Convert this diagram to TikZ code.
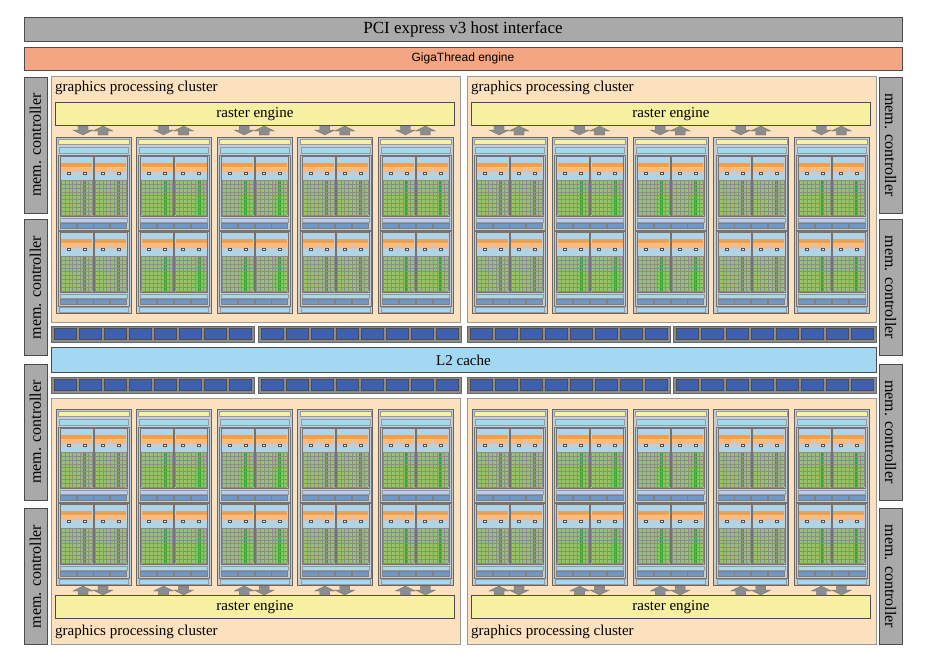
\documentclass[tikz,border=0pt]{standalone}
\usepackage{fontspec}
\setmainfont{Liberation Serif}
\newfontfamily\gtfont{Liberation Sans}
\definecolor{pcigray}{HTML}{A9A9A9}
\definecolor{gigaorange}{HTML}{F4A582}
\definecolor{gpcbg}{HTML}{FCE1BE}
\definecolor{rasteryel}{HTML}{F7F0A0}
\definecolor{lblue}{HTML}{A3D8F2}
\definecolor{mblue}{HTML}{6E98C8}
\definecolor{dblue}{HTML}{3F5FAF}
\definecolor{smorange}{HTML}{EFA04E}
\definecolor{smgreen}{HTML}{95C36A}
\definecolor{smframe}{HTML}{C4CCD4}
\tikzset{
  box/.style={draw=black!70, line width=0.6pt},
  memctl/.style={box, fill=pcigray, minimum width=23, minimum height=136, inner sep=0pt},
  blockarrow/.style={fill=black!45, draw=black!55, line width=0.3pt},
  pics/sm/.style={code={
    \draw[fill=smframe, draw=black!60, line width=0.8pt] (0,0) rectangle (75,176);
    \fill[rasteryel, draw=black!40, line width=0.3pt] (2,2) rectangle (73,7);
    \fill[lblue, draw=black!40, line width=0.3pt] (3,10) rectangle (72,16);
    \foreach \h in {18,94} {
      \draw[black!55, line width=0.6pt] (2,\h) rectangle (73,\h+75);
      \foreach \c in {4,38} {
        \draw[black!55, line width=0.5pt] (\c,\h+1) rectangle (\c+33,\h+61);
        \fill[lblue] (\c+1,\h+2) rectangle (\c+32,\h+6);
        \fill[smorange] (\c+1,\h+8) rectangle (\c+32,\h+12);
        \fill[smorange!70] (\c+1,\h+13) rectangle (\c+16,\h+17);
        \fill[smorange!70] (\c+17,\h+13) rectangle (\c+32,\h+17);
        \draw[black!70, fill=white, line width=0.3pt] (\c+7,\h+17) rectangle (\c+10,\h+19)
          (\c+23,\h+17) rectangle (\c+26,\h+19);
        \fill[lblue] (\c+1,\h+20) rectangle (\c+32,\h+23);
        \fill[smgreen] (\c+1,\h+25) rectangle (\c+32,\h+60);
        \fill[green!55!black!80] (\c+23,\h+25) rectangle (\c+26,\h+60);
        \foreach \g in {0,...,8}
          \draw[black!45, line width=0.3pt] (\c+1+\g*3.875,\h+25) -- (\c+1+\g*3.875,\h+60);
        \foreach \g in {0,...,9}
          \draw[black!45, line width=0.3pt] (\c+1,\h+25+\g*3.89) -- (\c+32,\h+25+\g*3.89);
      }
      \fill[lblue, draw=black!40, line width=0.3pt] (4,\h+63) rectangle (71,\h+67);
      \foreach \s in {0,1,2,3}
        \fill[mblue, draw=black!50, line width=0.3pt] (4+\s*16.75,\h+68) rectangle (4+\s*16.75+16,\h+73);
    }
    \fill[lblue, draw=black!40, line width=0.3pt] (3,170) rectangle (72,175);
  }},
  pics/downup/.style={code={
    \draw[blockarrow] (-5,0) -- (-5,4) -- (-10,4) -- (0,9) -- (10,4) -- (5,4) -- (5,0) -- cycle;
    \draw[blockarrow] (15,9) -- (15,5) -- (10,5) -- (20,0) -- (30,5) -- (25,5) -- (25,9) -- cycle;
  }}
}
\begin{document}
\begin{tikzpicture}[x=1pt, y=-1pt, font=\fontsize{15}{17}\selectfont]
\useasboundingbox (0,0) rectangle (927,672);

% host interface and scheduler
\node[box, fill=pcigray, minimum width=878, minimum height=24, inner sep=0pt, font=\fontsize{17}{19}\selectfont] (pci) at (463,29.5) {PCI express v3 host interface};
\node[box, fill=gigaorange, minimum width=878, minimum height=23, inner sep=0pt, font=\gtfont\fontsize{12}{14}\selectfont] (giga) at (463,58.5) {GigaThread engine};

% memory controllers
\foreach \y/\n in {145/a,287.5/b,432/c,576.5/d} {
  \node[memctl, font=\fontsize{16}{18}\selectfont] (memL\n) at (35.5,\y) {\rotatebox{90}{mem. controller}};
  \node[memctl, font=\fontsize{16}{18}\selectfont] (memR\n) at (890.5,\y) {\rotatebox{-90}{mem. controller}};
}

% graphics processing clusters
\foreach \gx/\n in {51/l,467/r} {
  % top cluster
  \node[draw=black!40, fill=gpcbg, minimum width=409, minimum height=246, inner sep=0pt, anchor=north west] (gpcT\n) at (\gx,76) {};
  \node[anchor=west, inner sep=0pt] (gpcTlab\n) at (\gx+4,88) {graphics processing cluster};
  \node[box, fill=rasteryel, minimum width=399, minimum height=23, inner sep=0pt] (rasT\n) at (\gx+204,114) {raster engine};
  % bottom cluster
  \node[draw=black!40, fill=gpcbg, minimum width=409, minimum height=246, inner sep=0pt, anchor=north west] (gpcB\n) at (\gx,398) {};
  \node[anchor=west, inner sep=0pt] (gpcBlab\n) at (\gx+4,632) {graphics processing cluster};
  \node[box, fill=rasteryel, minimum width=399, minimum height=23, inner sep=0pt] (rasB\n) at (\gx+204,607) {raster engine};
  \foreach \k in {0,...,4} {
    \pic at (\gx+5+\k*80.6,137) {sm};
    \pic at (\gx+5+\k*80.6,409) {sm};
    \pic at (\gx+32+\k*80.6,126) {downup};
    \pic[yscale=-1] at (\gx+32+\k*80.6,595) {downup};
  }
}

% L2 cache with its slices
\node[box, fill=lblue, minimum width=825, minimum height=25, inner sep=0pt] (l2) at (463.5,360) {L2 cache};
\foreach \bx in {51,258,467,673} {
  \foreach \by in {326,377} {
    \draw[fill=black!45, draw=black!60, line width=0.6pt] (\bx,\by) rectangle (\bx+203,\by+16);
    \foreach \s in {0,...,7}
      \draw[fill=dblue, draw=black!70, line width=0.5pt] (\bx+3+\s*25,\by+2.5) rectangle (\bx+3+\s*25+22,\by+13.5);
  }
}
\end{tikzpicture}
\end{document}
